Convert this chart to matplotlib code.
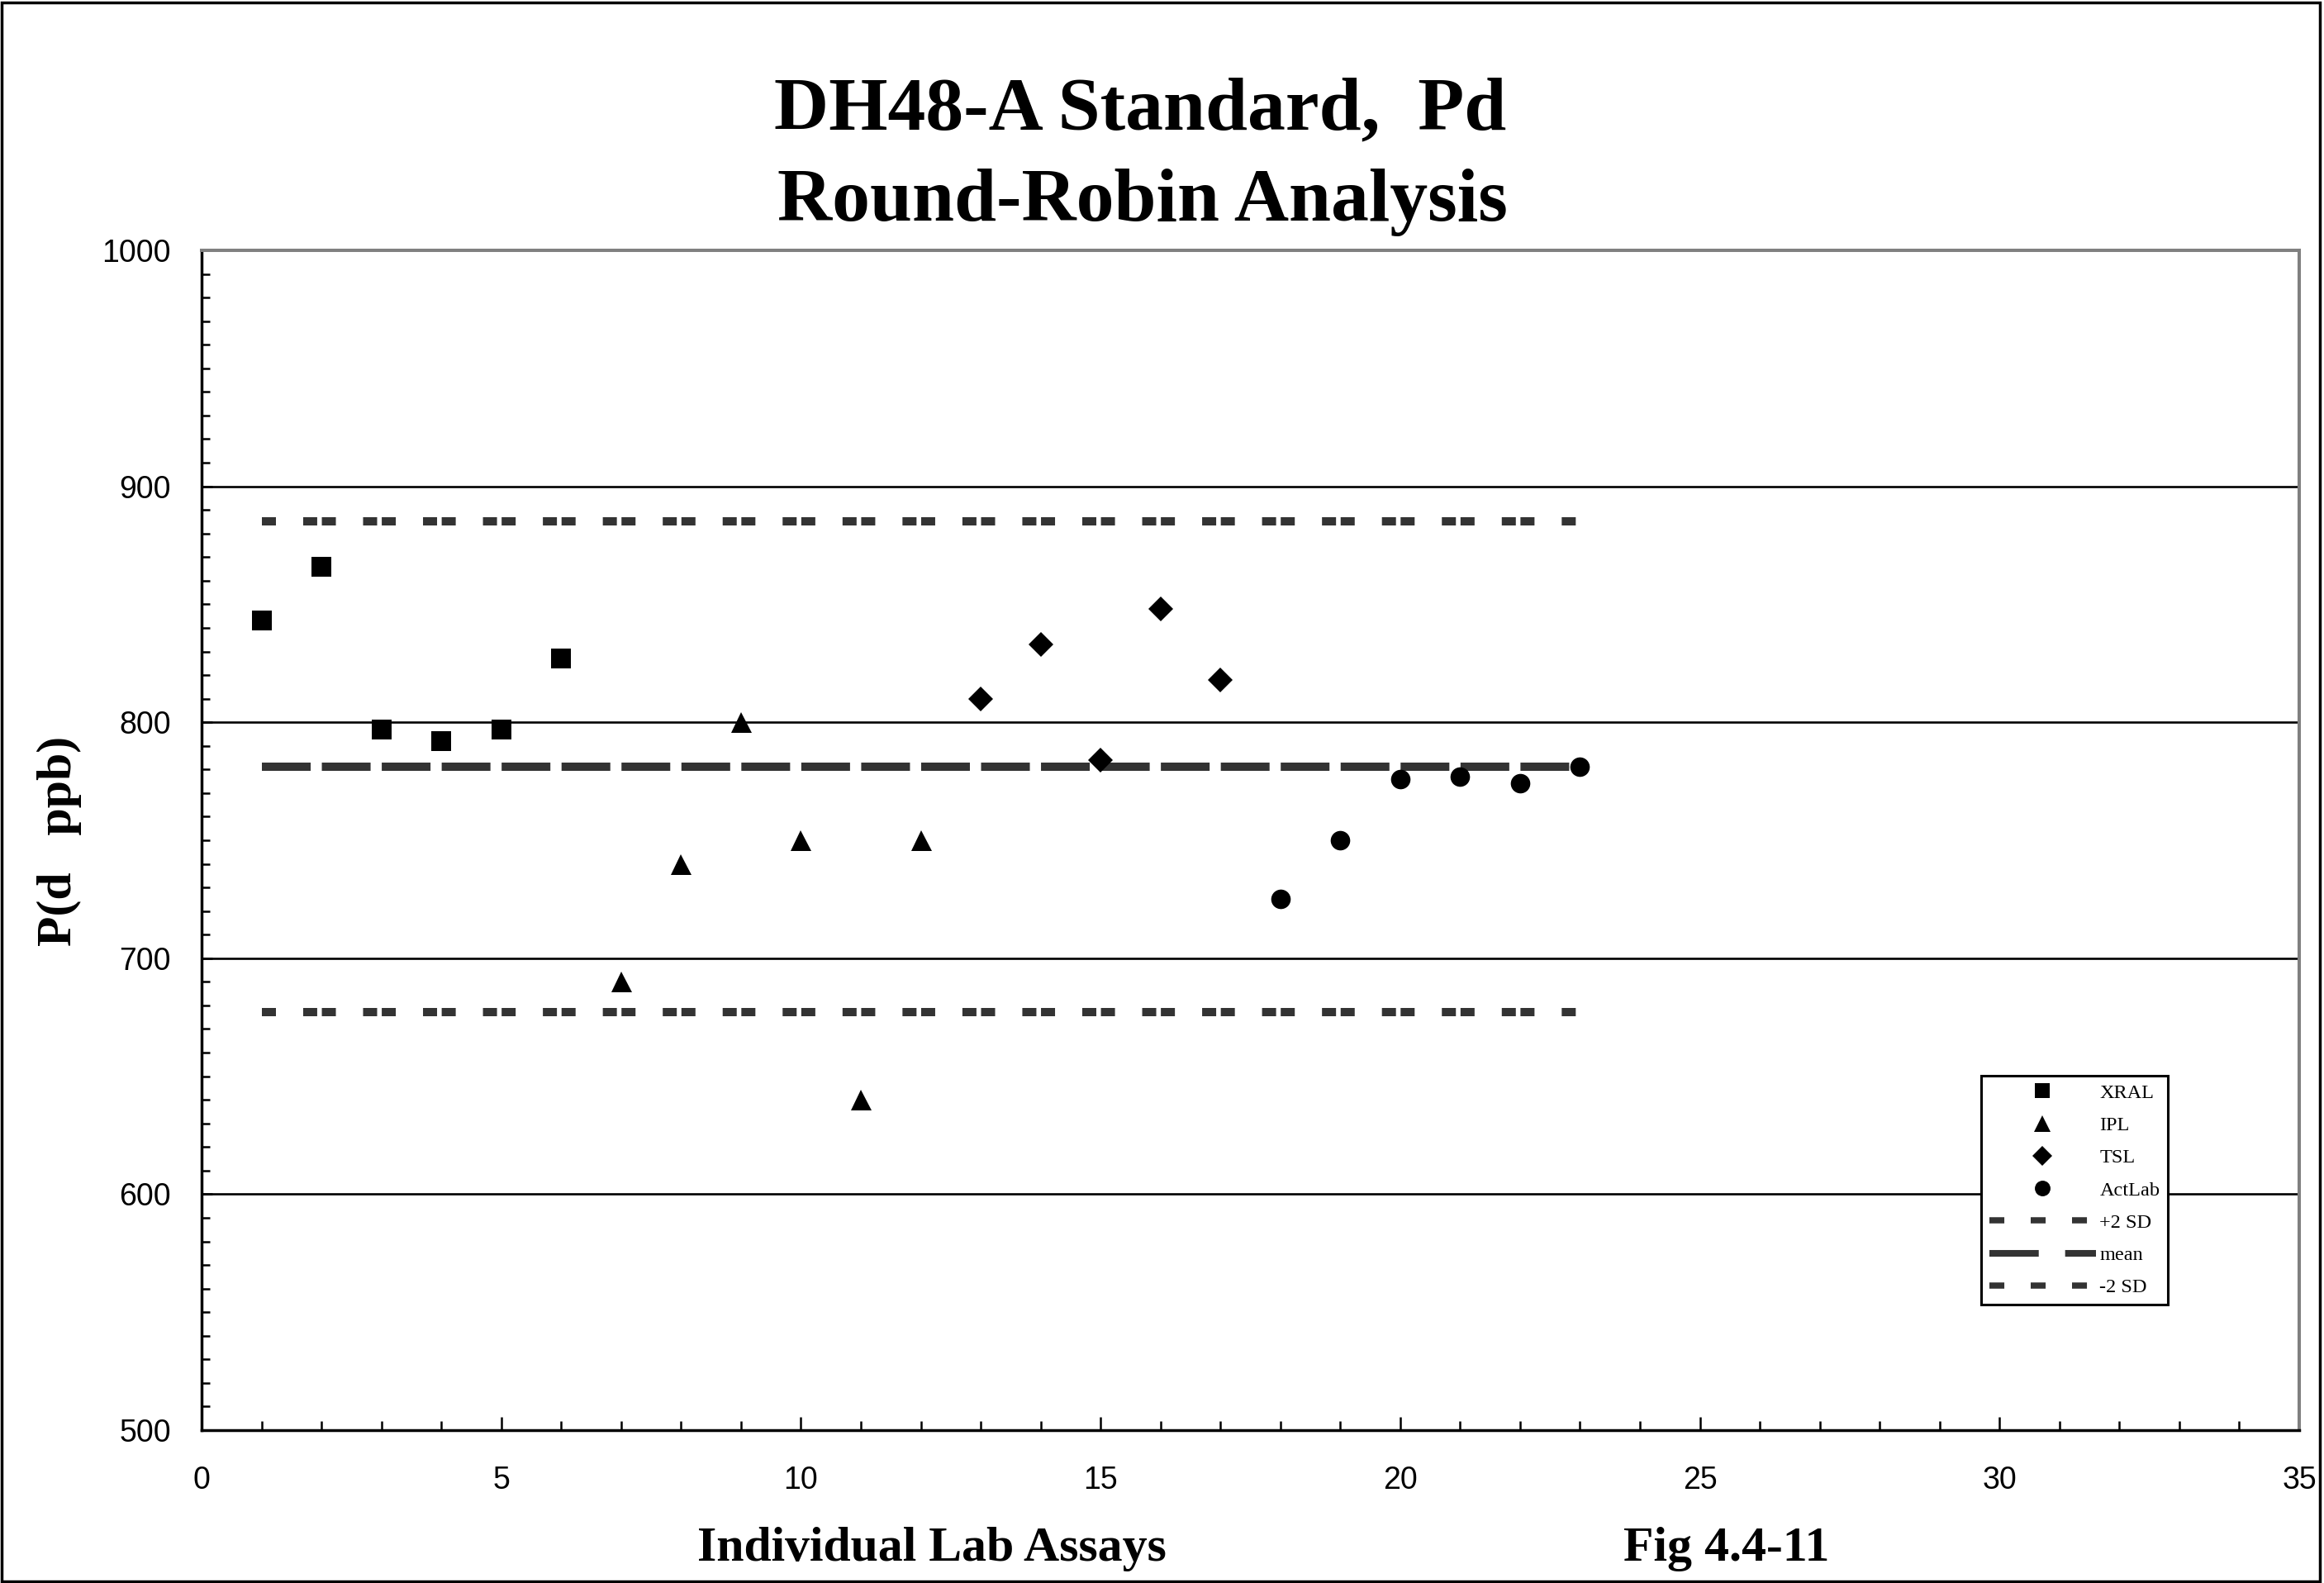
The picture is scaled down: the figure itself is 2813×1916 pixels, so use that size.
# Grafico de analisis round-robin del estandar DH48-A (Pd)
import matplotlib.pyplot as plt
from matplotlib.lines import Line2D
from matplotlib.patches import Rectangle
from matplotlib.ticker import MultipleLocator

plt.rcParams['font.family'] = ['Liberation Serif', 'DejaVu Serif']
plt.rcParams['lines.scale_dashes'] = False

# Valores
xral_x = [1, 2, 3, 4, 5, 6]
xral_y = [843, 866, 797, 792, 797, 827]
ipl_x = [7, 8, 9, 10, 11, 12]
ipl_y = [690, 740, 800, 750, 640, 750]
tsl_x = [13, 14, 15, 16, 17]
tsl_y = [810, 833, 784, 848, 818]
actlab_x = [18, 19, 20, 21, 22, 23]
actlab_y = [725, 750, 776, 777, 774, 781]

mean_pd = 781
plus_2sd = 885
minus_2sd = 677
line_x = [1, 23]

x_ticks = [0, 5, 10, 15, 20, 25, 30, 35]
y_ticks = [500, 600, 700, 800, 900, 1000]

fig = plt.figure(figsize=(28.13, 19.16), dpi=100)
ax = fig.add_axes([244 / 2813, 1 - 1731 / 1916, (2783 - 244) / 2813, (1731 - 303) / 1916])

# lineas de media y +/- 2 SD
sd_style = (16.27, (12.24, 4.03, 12.24, 23.72))
mean_style = (0, (42.5, 9.73))
line_color = '#333333'
ax.plot(line_x, [plus_2sd, plus_2sd], color=line_color, lw=7.2, linestyle=sd_style, zorder=2)
ax.plot(line_x, [mean_pd, mean_pd], color=line_color, lw=7.2, linestyle=mean_style, zorder=2)
ax.plot(line_x, [minus_2sd, minus_2sd], color=line_color, lw=7.2, linestyle=sd_style, zorder=2)

# puntos de cada laboratorio
h1, = ax.plot(xral_x, xral_y, 's', color='black', ms=17, mew=0, zorder=3)
h2, = ax.plot(ipl_x, ipl_y, '^', color='black', ms=18, mew=0, zorder=3)
h3, = ax.plot(tsl_x, tsl_y, 'D', color='black', ms=14.8, mew=0, zorder=3)
h4, = ax.plot(actlab_x, actlab_y, 'o', color='black', ms=17, mew=0, zorder=3)

ax.set_xlim(0, 35)
ax.set_ylim(500, 1000)
ax.set_xticks(x_ticks)
ax.set_yticks(y_ticks)
ax.xaxis.set_minor_locator(MultipleLocator(1))
ax.yaxis.set_minor_locator(MultipleLocator(10))
ax.tick_params(axis='x', which='major', direction='in', length=11.5, width=1.8, pad=31, labelsize=27)
ax.tick_params(axis='x', which='minor', direction='in', length=8, width=1.8)
ax.tick_params(axis='y', which='major', direction='in', length=9.4, width=1.8, pad=26.6, labelsize=27)
ax.tick_params(axis='y', which='minor', direction='in', length=7, width=1.8)
plt.setp(ax.get_xticklabels() + ax.get_yticklabels(), fontfamily='Liberation Sans')

ax.yaxis.grid(True, which='major', color='black', linewidth=1.9)
ax.set_axisbelow(True)

for s in ['top', 'right']:
    ax.spines[s].set_color('#808080')
    ax.spines[s].set_linewidth(2.9)
for s in ['left', 'bottom']:
    ax.spines[s].set_color('black')
    ax.spines[s].set_linewidth(2.5)

# leyenda
p_sd = Line2D([], [], color=line_color, lw=5.4, linestyle=(0, (13, 23)))
p_mean = Line2D([], [], color=line_color, lw=5.8, linestyle=(0, (43, 23)))
m_sd = Line2D([], [], color=line_color, lw=5.4, linestyle=(0, (13, 23)))
leg = fig.legend([h1, h2, h3, h4, p_sd, p_mean, m_sd],
                 ['XRAL', 'IPL', 'TSL', 'ActLab', '+2 SD', 'mean', '-2 SD'],
                 loc='upper left', bbox_to_anchor=(2398 / 2813, 1 - 1302 / 1916),
                 fontsize=17.5, markerscale=0.8, handlelength=5.3, handletextpad=0.2,
                 labelspacing=0.71, borderpad=0.4, borderaxespad=0,
                 fancybox=False, framealpha=1, edgecolor='black')
leg.get_frame().set_linewidth(2.2)

# titulos
fig.text(1380 / 2813, 1 - 156 / 1916, 'DH48-A Standard,  Pd', ha='center', va='baseline',
         fontsize=66, fontweight='bold')
fig.text(1383 / 2813, 1 - 267 / 1916, 'Round-Robin Analysis', ha='center', va='baseline',
         fontsize=66, fontweight='bold')
fig.text(1128 / 2813, 1 - 1889 / 1916, 'Individual Lab Assays', ha='center', va='baseline',
         fontsize=43, fontweight='bold')
fig.text(2090 / 2813, 1 - 1889 / 1916, 'Fig 4.4-11', ha='center', va='baseline',
         fontsize=43, fontweight='bold')
fig.text(72 / 2813, 1 - 1018 / 1916, 'P(d   ppb)', rotation=90, ha='center', va='center',
         fontsize=43, fontweight='bold')

# marco de la figura
fig.patches.append(Rectangle((2 / 2813, 2 / 1916), 2806 / 2813, 1911 / 1916,
                             transform=fig.transFigure, fill=False, lw=2.5, ec='black'))

fig.savefig('out.png', dpi=100)
